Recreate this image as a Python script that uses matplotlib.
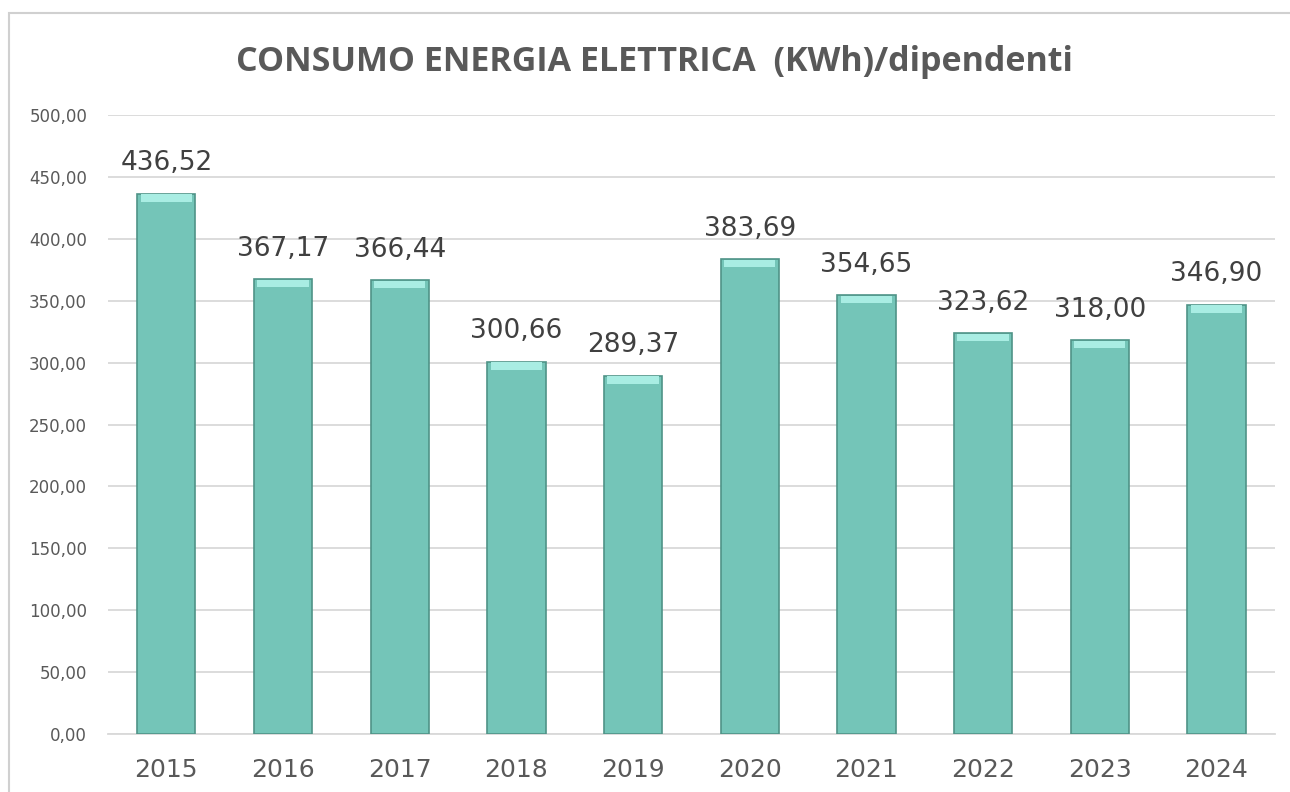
import matplotlib.pyplot as plt
from matplotlib.patches import Rectangle
from matplotlib.ticker import FuncFormatter

years = ['2015', '2016', '2017', '2018', '2019', '2020', '2021', '2022', '2023', '2024']
consumo = [436.52, 367.17, 366.44, 300.66, 289.37, 383.69, 354.65, 323.62, 318.00, 346.90]

def virgola(x, pos=None):
    return f'{x:,.2f}'.replace(',', 'X').replace('.', ',').replace('X', '.')

fig = plt.figure(figsize=(12.9, 7.92), dpi=100)
# cornice del grafico
fig.patches.append(Rectangle((0.007, -0.01), 1.5, 0.994, transform=fig.transFigure,
                             fill=False, edgecolor='#D0D0D0', linewidth=1.5))
ax = fig.add_axes([0.0837, 0.0732, 0.9045, 0.7816])

x = range(len(years))
ax.bar(x, consumo, width=0.5, color='#74C5B8', edgecolor='#4F9387', linewidth=1.2, zorder=3)
# smusso chiaro in cima alle barre
ax.bar(x, [6] * len(x), bottom=[v - 6.5 for v in consumo], width=0.44,
       color='#A9EDE3', linewidth=0, zorder=4)

for i, v in enumerate(consumo):
    ax.text(i, v + 14, virgola(v), ha='center', va='bottom', fontsize=19,
            color='#404040', family='DejaVu Sans', zorder=5)

ax.set_ylim(0, 500)
ax.set_xlim(-0.5, len(years) - 0.5)
ax.set_yticks(range(0, 501, 50))
ax.yaxis.set_major_formatter(FuncFormatter(virgola))
ax.set_xticks(list(x))
ax.set_xticklabels(years)
ax.tick_params(axis='y', labelsize=12, colors='#595959', length=0, pad=15)
ax.tick_params(axis='x', labelsize=18, colors='#595959', length=0, pad=17)
ax.grid(axis='y', color='#D9D9D9', linewidth=1.3, zorder=0)
for s in ['top', 'right', 'left']:
    ax.spines[s].set_visible(False)
ax.spines['bottom'].set_color('#D9D9D9')
ax.spines['bottom'].set_linewidth(1.3)

fig.text(0.507, 0.922, 'CONSUMO ENERGIA ELETTRICA  (KWh)/dipendenti', ha='center', va='center',
         fontsize=24.5, fontweight='bold', color='#595959', family='Open Sans')

plt.savefig('out.png', dpi=100)
